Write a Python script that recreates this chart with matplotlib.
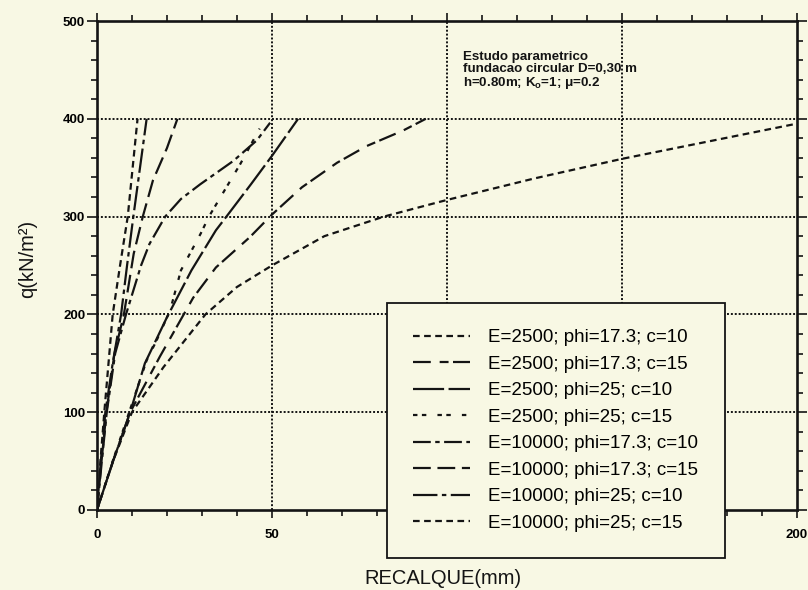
import matplotlib
matplotlib.use('Agg')
import matplotlib.pyplot as plt

# recalque (mm) vs q (kN/m2)
labels = [
    "E=2500; phi=17.3; c=10",
    "E=2500; phi=17.3; c=15",
    "E=2500; phi=25; c=10",
    "E=2500; phi=25; c=15",
    "E=10000; phi=17.3; c=10",
    "E=10000; phi=17.3; c=15",
    "E=10000; phi=25; c=10",
    "E=10000; phi=25; c=15",
]

x_e2500_p17_c10 = [0, 4.6, 10, 19, 31, 40, 50, 65, 82, 100, 125, 150, 175, 200]
q_e2500_p17_c10 = [0, 50, 100, 146, 200, 228, 250, 280, 300, 317, 339, 359, 377, 395]

x_e2500_p17_c15 = [0, 4.6, 9.5, 18, 27.5, 34, 43.7, 50, 58.6, 68.6, 77, 87.5, 94]
q_e2500_p17_c15 = [0, 50, 100, 157, 217, 248, 279, 302, 330, 355, 372, 388, 400]

x_e2500_p25_c10 = [0, 4.6, 9.5, 13.7, 20, 27, 34, 37, 44, 50, 57.5]
q_e2500_p25_c10 = [0, 50, 100, 150, 197, 245, 286, 300, 333, 362, 400]

x_e2500_p25_c15 = [0, 4.5, 9.2, 14.2, 17, 20.9, 24, 29.7, 32, 35, 41, 46.5]
q_e2500_p25_c15 = [0, 50, 100, 153, 173, 204, 245, 283, 300, 318, 354, 390]

x_e10000_p17_c10 = [0, 1.4, 2.8, 5.2, 8.3, 12.6, 15, 19.5, 24, 29.5, 39, 45.7, 49.5]
q_e10000_p17_c10 = [0, 50, 100, 160, 200, 250, 272, 300, 318, 333, 357, 378, 396]

x_e10000_p17_c15 = [0, 1.3, 2.7, 5, 7.7, 10.5, 13.1, 16, 20, 23]
q_e10000_p17_c15 = [0, 50, 100, 160, 200, 262, 300, 337, 370, 400]

x_e10000_p25_c10 = [0, 1.1, 2.4, 4.5, 6.9, 8.6, 10.4, 12.3, 14.2]
q_e10000_p25_c10 = [0, 50, 100, 150, 200, 250, 300, 350, 400]

x_e10000_p25_c15 = [0, 1, 2.1, 3.3, 4.5, 6.6, 8.8, 10.2, 11.6]
q_e10000_p25_c15 = [0, 50, 100, 150, 200, 250, 300, 350, 400]

series_x = [x_e2500_p17_c10, x_e2500_p17_c15, x_e2500_p25_c10, x_e2500_p25_c15,
            x_e10000_p17_c10, x_e10000_p17_c15, x_e10000_p25_c10, x_e10000_p25_c15]
series_q = [q_e2500_p17_c10, q_e2500_p17_c15, q_e2500_p25_c10, q_e2500_p25_c15,
            q_e10000_p17_c10, q_e10000_p17_c15, q_e10000_p25_c10, q_e10000_p25_c15]

x_ticks = [0, 50, 100, 150, 200]
# 100 and 150 sit under the legend box in the original
x_tick_labels = ["0", "50", "", "", "200"]
y_ticks = [0, 100, 200, 300, 400, 500]

note = "Estudo parametrico\nfundacao circular D=0,30 m\nh=0.80m; K$_\\mathrm{o}$=1; \u03bc=0.2"


def main():
    plt.rcParams['font.family'] = ['Liberation Sans', 'DejaVu Sans']
    plt.rcParams['mathtext.fontset'] = 'custom'
    plt.rcParams['mathtext.rm'] = 'Liberation Sans:bold'

    bg = '#f8f8e4'
    ink = '#141414'

    styles = [
        (0, (3, 2)),
        (0, (8, 4, 4, 2)),
        (0, (14, 2)),
        (0, (2, 2, 2, 5)),
        (0, (8, 2, 2, 2)),
        (0, (8, 3)),
        (0, (11, 2, 2, 2)),
        (0, (3, 2)),
    ]

    fig = plt.figure(figsize=(8.08, 5.90), dpi=100, facecolor=bg)
    ax = fig.add_axes([0.120, 0.1356, 0.866, 0.8288], facecolor=bg)

    handles = []
    for xs, qs, ls, lab in zip(series_x, series_q, styles, labels):
        h, = ax.plot(xs, qs, color=ink, lw=1.6, linestyle=ls, label=lab)
        handles.append(h)

    ax.set_xlim(0, 200)
    ax.set_ylim(0, 500)

    for v in [50, 100, 150]:
        ax.axvline(v, color=ink, lw=1.4, linestyle=(0, (1, 1)), zorder=1)
    for v in [100, 200, 300, 400]:
        ax.axhline(v, color=ink, lw=1.4, linestyle=(0, (1, 1)), zorder=1)

    for s in ax.spines.values():
        s.set_linewidth(1.9)
        s.set_color(ink)

    ax.set_xticks(x_ticks)
    ax.set_xticklabels(x_tick_labels)
    ax.set_yticks(y_ticks)
    ax.set_xticks(range(0, 201, 10), minor=True)
    ax.set_yticks(range(0, 501, 20), minor=True)
    ax.tick_params(which='both', top=True, right=True, color=ink, width=1.2)
    ax.tick_params(axis='x', which='major', direction='out', length=6, pad=8,
                   labelsize=9.5)
    ax.tick_params(axis='y', which='major', direction='out', length=7, pad=1.5,
                   labelsize=9.5)
    ax.tick_params(which='minor', direction='out', length=4)
    for lab in ax.get_xticklabels() + ax.get_yticklabels():
        lab.set_fontweight('bold')

    ax.text(104.5, 449, note, fontsize=9.6, fontweight='bold', va='center',
            ha='left', linespacing=1.0, color=ink)

    fig.text(0.548, 1 - 578 / 590, "RECALQUE(mm)", ha='center', va='center',
             fontsize=14.5, color=ink)
    fig.text(28 / 808, 1 - 259 / 590, "q(kN/m\u00b2)", ha='center', va='center',
             rotation=90, fontsize=14.5, color=ink)

    leg = fig.legend(handles=handles, loc='upper left',
                     bbox_to_anchor=(387 / 808, 1 - 303 / 590),
                     bbox_transform=fig.transFigure, borderaxespad=0,
                     fontsize=13.5, frameon=True, fancybox=False,
                     facecolor=bg, edgecolor=ink, framealpha=1,
                     handlelength=3.0, handletextpad=1.0, borderpad=1.4,
                     labelspacing=0.5)
    leg.get_frame().set_linewidth(1.3)
    leg.set_zorder(10)

    fig.savefig('out.png', dpi=100, facecolor=bg)


if __name__ == "__main__":
    main()
